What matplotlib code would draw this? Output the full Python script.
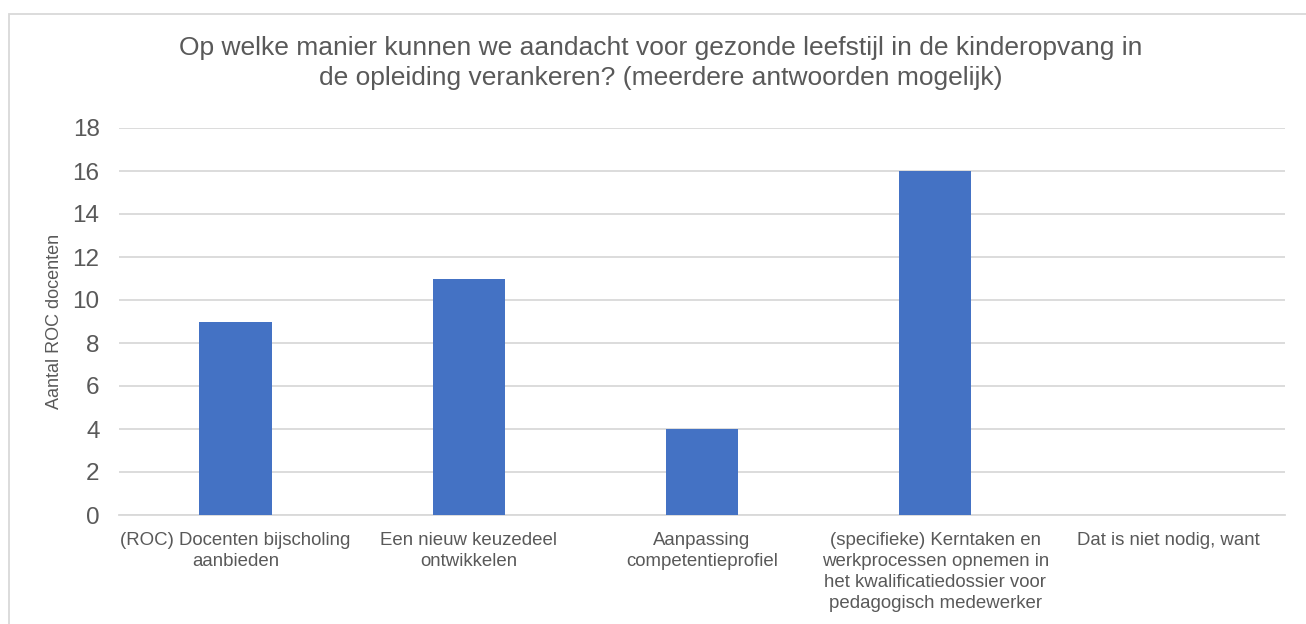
import matplotlib
matplotlib.use("Agg")
import matplotlib.pyplot as plt
from matplotlib.patches import Rectangle

# data
categorieen = [
    "(ROC) Docenten bijscholing\naanbieden",
    "Een nieuw keuzedeel\nontwikkelen",
    "Aanpassing\ncompetentieprofiel",
    "(specifieke) Kerntaken en\nwerkprocessen opnemen in\nhet kwalificatiedossier voor\npedagogisch medewerker",
    "Dat is niet nodig, want",
]
aantallen = [9, 11, 4, 16, 0]
y_ticks = [0, 2, 4, 6, 8, 10, 12, 14, 16, 18]

titel = ("Op welke manier kunnen we aandacht voor gezonde leefstijl in de kinderopvang in\n"
         "de opleiding verankeren? (meerdere antwoorden mogelijk)")

plt.rcParams['font.family'] = ['Liberation Sans', 'DejaVu Sans']
tekst = "#595959"
W, H = 1306, 624

fig = plt.figure(figsize=(W / 100, H / 100), dpi=100)
ax = fig.add_axes([119 / W, 1 - 515 / H, (1285 - 119) / W, (515 - 128) / H])

x = list(range(len(categorieen)))
ax.bar(x, aantallen, width=0.31, color="#4472C4", zorder=3)

ax.set_xlim(-0.5, len(categorieen) - 0.5)
ax.set_ylim(0, 18)
ax.set_yticks(y_ticks)
ax.yaxis.grid(True, color="#D9D9D9", linewidth=1.3, zorder=0)
ax.set_xticks(x)
ax.set_xticklabels(categorieen, fontsize=13.4, color=tekst, linespacing=1.32)
ax.tick_params(axis="x", length=0, pad=12)
ax.tick_params(axis="y", length=0, pad=14, labelsize=17.5, labelcolor=tekst)
for s in ["top", "right", "left"]:
    ax.spines[s].set_visible(False)
ax.spines["bottom"].set_color("#D9D9D9")
ax.spines["bottom"].set_linewidth(1.3)

ax.set_ylabel("Aantal ROC docenten", fontsize=13, color=tekst, labelpad=7)

fig.text(661 / W, 1 - 63 / H, titel, ha="center", va="center", fontsize=19,
         color=tekst, linespacing=1.28)

# chart border
fig.patches.append(Rectangle((9 / W, -0.1), 1.2, 1 - 14 / H + 0.1,
                             transform=fig.transFigure, fill=False,
                             edgecolor="#D9D9D9", linewidth=1.3))

fig.savefig("out.png", dpi=100)
